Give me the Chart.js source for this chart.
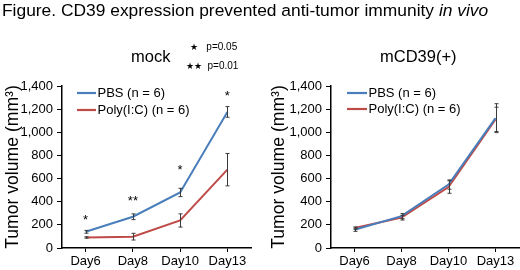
<!DOCTYPE html>
<html><head><meta charset="utf-8">
<script src="https://cdn.jsdelivr.net/npm/chart.js@4.4.1/dist/chart.umd.min.js"></script>
<style>
html,body{margin:0;padding:0;background:#fff;}
body{width:520px;height:270px;position:relative;overflow:hidden;font-family:"Liberation Sans",Arial,sans-serif;color:#000;}
.t{position:absolute;white-space:nowrap;line-height:1;}
#fig{left:2px;top:2px;font-size:17.4px;}
#mock{left:131px;top:48px;font-size:16.5px;}
#cd{left:380px;top:48px;font-size:16.5px;}
.p{font-size:10px;}
#p1{left:190px;top:42px;}
#p2{left:186px;top:61px;}
#c1{position:absolute;left:0;top:0;}
#c2{position:absolute;left:260px;top:0;}
</style>
</head><body>
<canvas id="c1" width="260" height="270"></canvas>
<canvas id="c2" width="260" height="270"></canvas>
<div class="t" id="fig">Figure. CD39 expression prevented anti-tumor immunity <i>in vivo</i></div>
<div class="t" id="mock">mock</div>
<div class="t" id="cd">mCD39(+)</div>
<div class="t p" id="p1"><span style="font-size:9px">★</span>&nbsp;&nbsp; p=0.05</div>
<div class="t p" id="p2"><span style="font-size:9px">★★</span>&nbsp;&nbsp;p=0.01</div>
<script>
const categories = ['Day6', 'Day8', 'Day10', 'Day13'];
const seriesLabels = ['PBS (n = 6)', 'Poly(I:C) (n = 6)'];
const yTicks = [0, 200, 400, 600, 800, 1000, 1200, 1400];

const mockPBS = [140, 270, 480, 1176];
const mockPBSErr = [12, 25, 36, 46];
const mockPoly = [91, 98, 238, 677];
const mockPolyErr = [6, 29, 57, 140];
const mockStars = ['*', '**', '*', '*'];
const mockStarY = [272, 439, 703, 1340];

const cdPBS = [158, 275, 548, 1122];
const cdPBSErr = [14, 22, 40, 125];
const cdPoly = [172, 262, 527, 1112];
const cdPolyErr = [10, 20, 54, 105];

const FONT = '"Liberation Sans", Arial, sans-serif';
const BLUE = '#4A7EBB';
const RED = '#BE4B48';

const errorBarPlugin = {
  id: 'errorBars',
  afterDatasetsDraw(chart, args, opts) {
    const ctx = chart.ctx;
    const ys = chart.scales.y;
    ctx.save();
    ctx.strokeStyle = '#3a3a3a';
    ctx.lineWidth = 1;
    chart.data.datasets.forEach((ds, di) => {
      const meta = chart.getDatasetMeta(di);
      meta.data.forEach((pt, i) => {
        const e = ds.errors[i];
        const v = ds.data[i];
        const x = Math.round(pt.x) + 0.5;
        const y1 = ys.getPixelForValue(v + e);
        const y2 = ys.getPixelForValue(v - e);
        ctx.beginPath();
        ctx.moveTo(x, y1); ctx.lineTo(x, y2);
        ctx.moveTo(x - 2, y1); ctx.lineTo(x + 2, y1);
        ctx.moveTo(x - 2, y2); ctx.lineTo(x + 2, y2);
        ctx.stroke();
      });
    });
    ctx.restore();
  }
};

const legendPlugin = {
  id: 'lineLegend',
  afterDraw(chart, args, opts) {
    const ctx = chart.ctx;
    ctx.save();
    ctx.font = '13px ' + FONT;
    ctx.textBaseline = 'middle';
    ctx.fillStyle = '#000';
    chart.data.datasets.forEach((ds, i) => {
      const y = opts.y[i];
      ctx.strokeStyle = ds.borderColor;
      ctx.lineWidth = 2.2;
      ctx.beginPath();
      ctx.moveTo(opts.x0, y); ctx.lineTo(opts.x1, y);
      ctx.stroke();
      ctx.fillText(ds.label, opts.x1 + 1.5, y + 0.5);
    });
    ctx.restore();
  }
};

const starPlugin = {
  id: 'stars',
  afterDraw(chart, args, opts) {
    if (!opts.marks) return;
    const ctx = chart.ctx;
    const xs = chart.scales.x, ys = chart.scales.y;
    ctx.save();
    ctx.font = '13px ' + FONT;
    ctx.textAlign = 'center';
    ctx.textBaseline = 'alphabetic';
    ctx.fillStyle = '#000';
    opts.marks.forEach((m, i) => {
      const x = xs.getPixelForValue(i);
      const y = ys.getPixelForValue(opts.at[i]);
      ctx.fillText(m, x, y + 7.5);
    });
    ctx.restore();
  }
};

function makeChart(id, pbs, pbsErr, poly, polyErr, cfg) {
  return new Chart(document.getElementById(id), {
    type: 'line',
    data: {
      labels: categories,
      datasets: [
        { label: seriesLabels[0], data: pbs, errors: pbsErr, borderColor: BLUE, borderWidth: 2, pointRadius: 0, tension: 0, fill: false },
        { label: seriesLabels[1], data: poly, errors: polyErr, borderColor: RED, borderWidth: 2, pointRadius: 0, tension: 0, fill: false }
      ]
    },
    options: {
      responsive: false,
      animation: false,
      devicePixelRatio: 1,
      layout: { padding: { top: 86, right: cfg.padRight, bottom: 0, left: 0 } },
      plugins: {
        legend: { display: false },
        tooltip: { enabled: false },
        title: { display: false },
        lineLegend: cfg.legend,
        stars: cfg.stars || {}
      },
      scales: {
        x: {
          type: 'category',
          offset: true,
          grid: { display: true, drawOnChartArea: false, drawTicks: true, tickLength: 4, color: '#000', lineWidth: 1 },
          border: { display: true, color: '#000', width: 1.5 },
          ticks: { color: '#000', font: { family: FONT, size: 13 }, padding: 2, maxRotation: 0, autoSkip: false },
          afterFit(s) { s.height = 22; }
        },
        y: {
          min: 0, max: 1400,
          afterBuildTicks(s) { s.ticks = yTicks.map(v => ({ value: v })); },
          grid: { display: true, drawOnChartArea: false, drawTicks: true, tickLength: 5, color: '#000', lineWidth: 1 },
          border: { display: true, color: '#000', width: 1.5 },
          ticks: { color: '#000', font: { family: FONT, size: 13 }, padding: 4, callback: v => Number(v).toLocaleString('en-US') },
          title: { display: true, text: 'Tumor volume (mm³)', color: '#000', font: { family: FONT, size: 17.6 }, padding: { top: cfg.titlePad, bottom: 0 } },
          afterFit(s) { s.width = cfg.yWidth; }
        }
      }
    },
    plugins: [errorBarPlugin, legendPlugin, starPlugin]
  });
}

makeChart('c1', mockPBS, mockPBSErr, mockPoly, mockPolyErr, {
  padRight: 9, yWidth: 62, titlePad: 3,
  legend: { x0: 77, x1: 96, y: [93, 110] },
  stars: { marks: mockStars, at: mockStarY }
});
makeChart('c2', cdPBS, cdPBSErr, cdPoly, cdPolyErr, {
  padRight: 1, yWidth: 71, titlePad: 9,
  legend: { x0: 87, x1: 107, y: [93, 109] }
});
</script>
</body></html>
